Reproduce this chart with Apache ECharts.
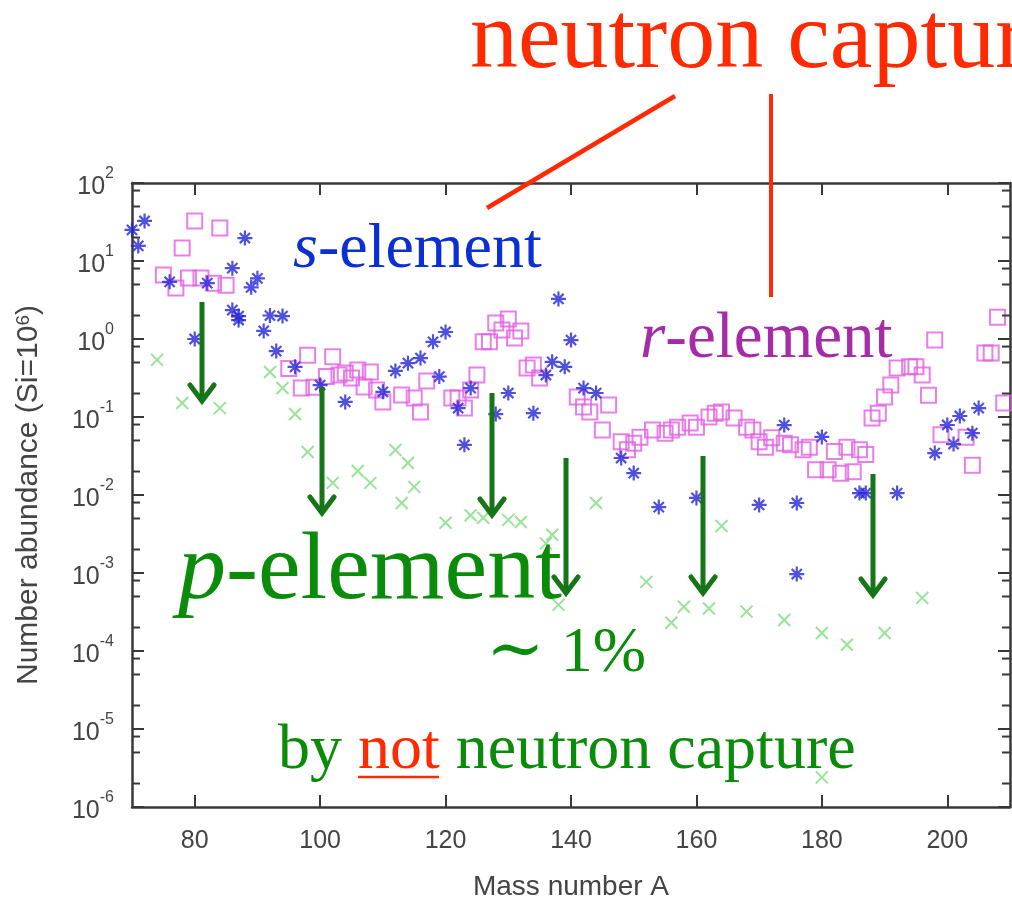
<!DOCTYPE html>
<html>
<head>
<meta charset="utf-8">
<script src="https://cdn.jsdelivr.net/npm/echarts@6/dist/echarts.min.js"></script>
<style>
html,body{margin:0;padding:0;background:#fff;}
#c{width:1012px;height:897px;}
</style>
</head>
<body>
<div id="c"></div>
<script>
// ---- data (mass number A, number abundance, Si = 1e6) ----
const sA = [70,72,71,76,82,86,88,90,89,86,87,87,92,94,91,80,93,96,100,104,110,112,114,116,118,120,119,124,122,123,128,130,134,136,137,138,139,140,142,144,148,150,154,160,170,176,176,174,180,186,187,192,198,200,202,205,201,204];
const sVal = [25,32.6,15.6,5.4,5.2,8.1,19.7,6.0,4.6,2.35,1.97,1.75,2.0,1.97,1.27,1.0,0.70,0.44,0.257,0.156,0.21,0.39,0.49,0.57,0.92,1.23,0.33,0.235,0.13,0.044,0.109,0.203,0.112,0.345,0.51,3.26,0.44,0.97,0.235,0.203,0.0298,0.0191,0.0070,0.00917,0.00745,0.0079,0.00097,0.0789,0.0555,0.0106,0.0106,0.0106,0.0345,0.079,0.103,0.130,0.045,0.062];

const rA = [75,77,78,79,80,81,83,84,85,
  95,97,98,99,101,102,103,104,105,106,107,108,109,110,113,115,116,117,121,122,123,124,125,126,127,128,129,130,131,132,133,134,135,
  141,142,143,145,146,148,149,150,151,153,155,156,157,159,160,162,163,164,166,168,169,170,171,172,174,175,177,178,179,181,182,183,184,185,186,187,
  188,189,190,191,192,194,195,196,197,198,199,203,204,206,207,208,209];
const rVal = [6.6,4.5,14.7,6.05,32.6,6.05,5.2,26.5,4.9,
  0.42,0.235,0.62,0.24,0.33,0.59,0.345,0.366,0.316,0.40,0.243,0.377,0.222,0.156,0.191,0.175,0.116,0.29,0.175,0.175,0.13,0.222,0.345,0.92,0.92,1.6,1.30,1.8,1.03,1.27,0.425,0.465,0.316,
  0.18,0.134,0.116,0.068,0.143,0.048,0.038,0.046,0.055,0.068,0.062,0.068,0.074,0.084,0.074,0.1,0.112,0.116,0.097,0.074,0.068,0.048,0.041,0.054,0.046,0.044,0.038,0.041,0.021,0.021,0.036,0.019,0.041,0.0199,0.038,0.033,
  0.097,0.112,0.18,0.257,0.425,0.44,0.44,0.345,0.19,0.97,0.059,0.055,0.024,0.66,0.66,1.9,0.151];

const pA = [74,78,84,92,94,96,98,102,106,108,112,114,115,113,120,124,126,130,132,136,137,138,144,152,156,158,162,164,168,174,180,180,184,190,196];
const pVal = [0.54,0.151,0.13,0.377,0.235,0.109,0.0356,0.0143,0.0203,0.0143,0.0377,0.0257,0.0127,0.0079,0.0044,0.0055,0.0051,0.0048,0.0045,0.0024,0.0031,0.00039,0.0079,0.00077,0.00023,0.00037,0.00035,0.0040,0.00032,0.00025,0.00017,0.0000024,0.00012,0.00017,0.00048];

const xTicks = [80,100,120,140,160,180,200];
const yMinorFactors = [2,5,8];
const yDecades = [-6,-5,-4,-3,-2,-1,0,1];

// ---- chart ----
const chart = echarts.init(document.getElementById('c'), null, {renderer:'canvas'});
const axisCol = '#383838';
const pair = (xs, ys) => xs.map((x,i)=>[x, ys[i]]);

const ASTER = 'path://M5 0L5 10M0 5L10 5M1.6 1.6L8.4 8.4M8.4 1.6L1.6 8.4';
const CROSS = 'path://M0 0L10 10M10 0L0 10';

const xAxisBase = {
  type:'value', min:70, max:210,
  axisLine:{show:true, onZero:false, lineStyle:{color:axisCol, width:2.5}},
  axisTick:{show:true, inside:true, length:12, customValues:xTicks, lineStyle:{color:axisCol, width:2}},
  splitLine:{show:false}
};
const yAxisBase = {
  type:'log', logBase:10, min:1e-6, max:100, splitNumber:8, interval:1,
  axisLine:{show:true, onZero:false, lineStyle:{color:axisCol, width:2.5}},
  axisTick:{show:true, inside:true, length:12, lineStyle:{color:axisCol, width:2}},
  splitLine:{show:false}, minorTick:{show:false}
};

chart.setOption({
  animation:false,
  backgroundColor:'#ffffff',
  grid:{left:132, right:2, top:183, bottom:90, containLabel:false, outerBoundsMode:'none'},
  xAxis:[
    Object.assign({}, xAxisBase, {
      position:'bottom',
      axisLabel:{customValues:xTicks, fontSize:25, color:'#444', fontFamily:'Liberation Sans', margin:22},
      name:'Mass number A', nameLocation:'middle', nameGap:66,
      nameTextStyle:{fontSize:28, color:'#444', fontFamily:'Liberation Sans'}
    }),
    Object.assign({}, xAxisBase, {position:'top', axisLabel:{show:false}})
  ],
  yAxis:[
    Object.assign({}, yAxisBase, {
      position:'left',
      axisLabel:{
        margin:18, color:'#444',
        formatter:function(v){ const e = Math.round(Math.log10(v)); return '{b|10}{s|' + e + '}'; },
        rich:{
          b:{fontSize:25, fontFamily:'Liberation Sans', color:'#444', padding:[9,0,0,0]},
          s:{fontSize:16, fontFamily:'Liberation Sans', color:'#444', verticalAlign:'top'}
        }
      },
      name:'Number abundance (Si=10{s|6})', nameLocation:'middle', nameGap:88,
      nameTextStyle:{fontSize:30, color:'#444', fontFamily:'Liberation Sans',
        rich:{s:{fontSize:19, color:'#444', fontFamily:'Liberation Sans', verticalAlign:'top'}}}
    }),
    Object.assign({}, yAxisBase, {position:'right', axisLabel:{show:false}})
  ],
  series:[
    {type:'scatter', name:'p', data:pair(pA,pVal), symbol:CROSS, symbolSize:12, silent:true,
     itemStyle:{color:'rgba(0,0,0,0)', borderColor:'#7fdc7f', borderWidth:2}, z:2},
    {type:'scatter', name:'r', data:pair(rA,rVal), symbol:'rect', symbolSize:15, silent:true,
     itemStyle:{color:'rgba(0,0,0,0)', borderColor:'#e25fe2', borderWidth:2}, z:3},
    {type:'scatter', name:'s', data:pair(sA,sVal), symbol:ASTER, symbolSize:15, silent:true,
     itemStyle:{color:'rgba(0,0,0,0)', borderColor:'#2424d6', borderWidth:2.2}, z:4}
  ]
});

// ---- minor log ticks + annotations ----
const xL = chart.convertToPixel({xAxisIndex:0}, 70);
const xR = chart.convertToPixel({xAxisIndex:0}, 210);
const gfx = [];
yDecades.forEach(d => yMinorFactors.forEach(m => {
  const py = chart.convertToPixel({yAxisIndex:0}, m*Math.pow(10,d));
  gfx.push({type:'line', z:5, shape:{x1:xL, y1:py, x2:xL+8, y2:py}, style:{stroke:axisCol, lineWidth:2}});
  gfx.push({type:'line', z:5, shape:{x1:xR-8, y1:py, x2:xR, y2:py}, style:{stroke:axisCol, lineWidth:2}});
}));

const RED = '#ff2a00', GREEN = '#0a8c0a', AGREEN = '#167516', BLUE = '#0b2fd4', PURPLE = '#a52ba8';
const serif = '"Liberation Serif", "Times New Roman", serif';

// text annotations
gfx.push({type:'text', z:20, x:470, y:42, style:{text:'neutron capture', fill:RED, font:'96px ' + serif, verticalAlign:'middle', align:'left'}});
gfx.push({type:'text', z:20, x:293, y:250.5, style:{text:'{i|s}{n|-element}', verticalAlign:'middle', align:'left',
  rich:{i:{fontStyle:'italic', fontSize:64, fontFamily:serif, fill:BLUE}, n:{fontSize:64, fontFamily:serif, fill:BLUE}}}});
gfx.push({type:'text', z:20, x:640, y:339.5, style:{text:'{i|r}{n|-element}', verticalAlign:'middle', align:'left',
  rich:{i:{fontStyle:'italic', fontSize:65, fontFamily:serif, fill:PURPLE}, n:{fontSize:65, fontFamily:serif, fill:PURPLE}}}});
gfx.push({type:'text', z:20, x:178, y:573, style:{text:'{i|p}{n|-element}', verticalAlign:'middle', align:'left',
  rich:{i:{fontStyle:'italic', fontSize:96, fontFamily:serif, fill:GREEN}, n:{fontSize:96, fontFamily:serif, fill:GREEN}}}});
gfx.push({type:'text', z:20, x:486, y:654, style:{text:'{t|\u223C}{n| 1%}', verticalAlign:'middle', align:'left',
  rich:{t:{fontSize:70, fontFamily:'"DejaVu Serif", serif', fill:GREEN}, n:{fontSize:64, fontFamily:serif, fill:GREEN}}}});
gfx.push({type:'text', z:20, x:278, y:751, style:{text:'{g|by }{r|not}{g| neutron capture}', verticalAlign:'middle', align:'left',
  rich:{g:{fontSize:64, fontFamily:serif, fill:GREEN}, r:{fontSize:64, fontFamily:serif, fill:RED}}}});
gfx.push({type:'line', z:20, shape:{x1:358, y1:777, x2:439, y2:777}, style:{stroke:RED, lineWidth:2.5}});

// red pointer lines
gfx.push({type:'line', z:20, shape:{x1:675, y1:96, x2:487, y2:208}, style:{stroke:RED, lineWidth:4.5}});
gfx.push({type:'line', z:20, shape:{x1:771, y1:94, x2:771, y2:297}, style:{stroke:RED, lineWidth:4}});

// green arrows
const arrows = [[202,302,403],[322,387,515],[492,393,517],[566,458,595],[703,456,595],[873,474,597]];
arrows.forEach(a => {
  const [x, y1, y2] = a;
  gfx.push({type:'line', z:21, shape:{x1:x, y1:y1, x2:x, y2:y2-2}, style:{stroke:AGREEN, lineWidth:5}});
  gfx.push({type:'polyline', z:21, shape:{points:[[x-12,y2-18],[x,y2-2],[x+12,y2-18]]}, style:{stroke:AGREEN, lineWidth:5, fill:null, lineJoin:'miter', lineCap:'round'}});
});

chart.setOption({graphic:{elements:gfx}});
</script>
</body>
</html>
